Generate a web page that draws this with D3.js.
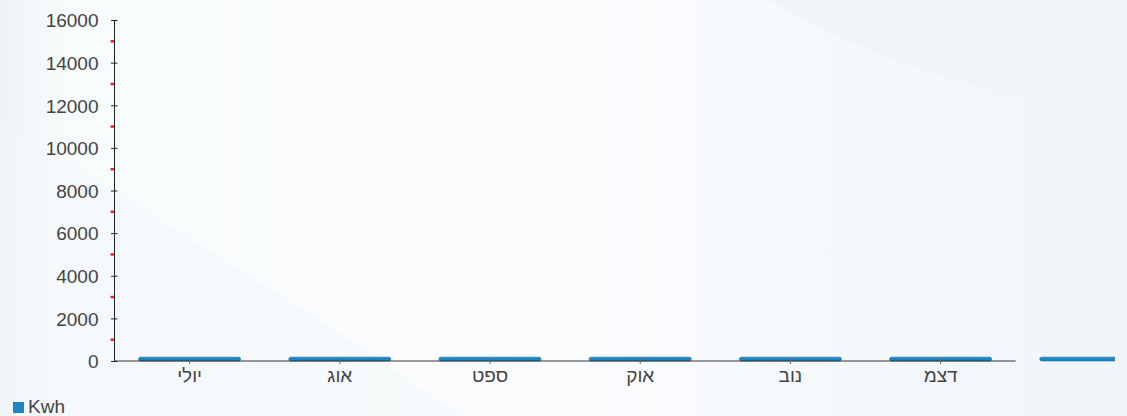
<!DOCTYPE html>
<html><head><meta charset="utf-8">
<script src="https://cdn.jsdelivr.net/npm/d3@7"></script>
<style>
html,body{margin:0;padding:0;overflow:hidden;background:#f5f8fb;}
text{font-family:"Liberation Sans",Arial,sans-serif;}
</style></head>
<body>
<svg id="c" width="1127" height="416"></svg>
<script>
const categories = ["יולי","אוג","ספט","אוק","נוב","דצמ","ינו"];
const shownCategories = ["יולי","אוג","ספט","אוק","נוב","דצמ"];
const kwh = [180,180,180,180,180,180,180];
const yTicks = [0,2000,4000,6000,8000,10000,12000,14000,16000];
const yMinorTicks = [1000,3000,5000,7000,9000,11000,13000,15000];
const seriesName = "Kwh";

const W = 1127, H = 416;
const svg = d3.select("#c");
const defs = svg.append("defs");

// background
const g1 = defs.append("linearGradient").attr("id","bg").attr("x1","0").attr("y1","0").attr("x2","1").attr("y2","0");
g1.append("stop").attr("offset","0").attr("stop-color","#edf3f7");
g1.append("stop").attr("offset","0.05").attr("stop-color","#f8fbfc");
g1.append("stop").attr("offset","0.5").attr("stop-color","#fbfcfe");
g1.append("stop").attr("offset","1").attr("stop-color","#eff5f9");
svg.append("rect").attr("width",W).attr("height",H).attr("fill","url(#bg)");
svg.append("path").attr("d","M770,0 C870,60 990,100 1127,108 L1127,0 Z").attr("fill","#eef4f8").attr("opacity",0.8);
svg.append("path").attr("d","M0,120 C120,200 300,300 460,416 L0,416 Z").attr("fill","#f4f8fa").attr("opacity",0.5);

const y = d3.scaleLinear().domain([0,16000]).range([361,20]);
const x = d3.scaleBand().domain(categories).range([114.5, 114.5 + categories.length*150.2]).paddingInner(0.32).paddingOuter(0.16);

defs.append("clipPath").attr("id","clip").append("rect").attr("x",0).attr("y",0).attr("width",1115).attr("height",H);

// bars
svg.append("g").attr("clip-path","url(#clip)")
  .selectAll("rect").data(categories).join("rect")
  .attr("x", d => x(d))
  .attr("width", x.bandwidth())
  .attr("y", (d,i) => y(kwh[i]))
  .attr("height", (d,i) => y(0) - y(kwh[i]))
  .attr("rx", 2)
  .attr("fill", "#1a86c4")
  .attr("stroke", "#1670a6").attr("stroke-width", 0.6);

// y axis
const ya = svg.append("g").attr("transform","translate(114.5,0)")
  .call(d3.axisLeft(y).tickValues(yTicks).tickSize(3).tickPadding(13).tickFormat(d3.format("d")));
ya.select(".domain").attr("stroke","#222").attr("d", `M0,${y(0)}V${y(16000)}`);
ya.selectAll(".tick line").attr("x1",3).attr("x2",-3.5).attr("stroke","#222");
ya.selectAll(".tick text").attr("fill","#444").style("font-size","19px").attr("dy","0.36em");
svg.append("g").attr("transform","translate(114.5,0)")
  .selectAll("line").data(yMinorTicks).join("line")
  .attr("x1",-4).attr("x2",-0.5).attr("y1",d=>y(d)).attr("y2",d=>y(d))
  .attr("stroke","#f5222d").attr("stroke-width",2.5);

// x axis
const xEnd = x.range()[0] + shownCategories.length * x.step();
const xa = svg.append("g").attr("transform",`translate(0,${y(0)})`)
  .call(d3.axisBottom(x).tickValues(shownCategories).tickSize(3).tickPadding(4));
xa.select(".domain").attr("stroke","#333").attr("d", `M${x.range()[0]},0H${xEnd}`);
xa.selectAll(".tick line").attr("y1",-3).attr("y2",3).attr("stroke","#666");
xa.selectAll(".tick text").attr("fill","#444").style("font-size","19px").attr("dy","0.72em");

// legend
svg.append("rect").attr("x",13).attr("y",402).attr("width",11).attr("height",11).attr("fill","#1a86c4");
svg.append("text").attr("x",28).attr("y",413).attr("fill","#444").style("font-size","19px").text(seriesName);
</script>
</body></html>
